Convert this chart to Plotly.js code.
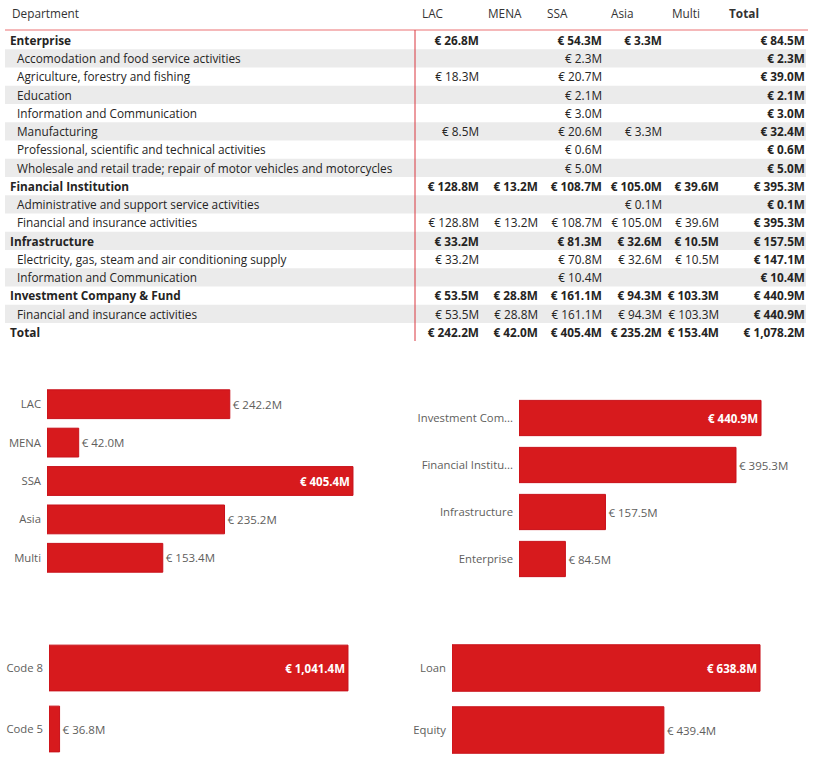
<!DOCTYPE html>
<html><head><meta charset="utf-8">
<script src="https://cdn.plot.ly/plotly-3.0.1.min.js"></script>
<style>html,body{margin:0;padding:0;background:#fff}</style>
</head><body><div id="chart" style="width:820px;height:764px"></div>
<script>
// ---------- data ----------
const regions = ['LAC','MENA','SSA','Asia','Multi'];
const rowLabels = ['Enterprise','Accomodation and food service activities','Agriculture, forestry and fishing','Education','Information and Communication','Manufacturing','Professional, scientific and technical activities','Wholesale and retail trade; repair of motor vehicles and motorcycles','Financial Institution','Administrative and support service activities','Financial and insurance activities','Infrastructure','Electricity, gas, steam and air conditioning supply','Information and Communication','Investment Company & Fund','Financial and insurance activities','Total'];
const rowIsGroup = [true,false,false,false,false,false,false,false,true,false,false,true,false,false,true,false,true];
const lacVals   = [26.8,null,18.3,null,null,8.5,null,null,128.8,null,128.8,33.2,33.2,null,53.5,53.5,242.2];
const menaVals  = [null,null,null,null,null,null,null,null,13.2,null,13.2,null,null,null,28.8,28.8,42.0];
const ssaVals   = [54.3,2.3,20.7,2.1,3.0,20.6,0.6,5.0,108.7,null,108.7,81.3,70.8,10.4,161.1,161.1,405.4];
const asiaVals  = [3.3,null,null,null,null,3.3,null,null,105.0,0.1,105.0,32.6,32.6,null,94.3,94.3,235.2];
const multiVals = [null,null,null,null,null,null,null,null,39.6,null,39.6,10.5,10.5,null,103.3,103.3,153.4];
const totalVals = [84.5,2.3,39.0,2.1,3.0,32.4,0.6,5.0,395.3,0.1,395.3,157.5,147.1,10.4,440.9,440.9,1078.2];
const headerLabels = ['Department','LAC','MENA','SSA','Asia','Multi','Total'];

const regionTotals = [242.2,42.0,405.4,235.2,153.4];
const deptLabels = ['Investment Com...','Financial Institu...','Infrastructure','Enterprise'];
const deptTotals = [440.9,395.3,157.5,84.5];
const codeLabels = ['Code 8','Code 5'];
const codeTotals = [1041.4,36.8];
const instrLabels = ['Loan','Equity'];
const instrTotals = [638.8,439.4];

// ---------- helpers / layout constants ----------
const W = 820, H = 764;
const px = v => v / W;
const py = v => 1 - v / H;
const fmt = v => v == null ? '' : '\u20AC ' + v.toLocaleString('en-US',{minimumFractionDigits:1,maximumFractionDigits:1}) + 'M';
const bold = s => '<b>' + s + '</b>';
const FONT = 'Segoe UI, Open Sans, sans-serif';
const TXT = '#252423';
const RED = '#d71a1d';
const TFS = 11.8; // table font size

// table column anchors (pixels on the hidden x5 axis, which maps 1:1 to pixels)
const LABEL_X_GROUP = 10, LABEL_X_SUB = 17;
const VALUE_RIGHT = [479, 538, 602, 662, 719, 805];
const HEADER_LEFT = [10, 420, 486, 545, 609, 670, 727];

// ---------- table (text traces on a hidden row/column axis) ----------
const rowIdx = rowLabels.map((_, i) => i);
const valueCols = [lacVals, menaVals, ssaVals, asiaVals, multiVals];

function textCol(xs, texts, pos) {
  return {
    type: 'scatter', mode: 'text', x: xs, y: rowIdx, text: texts, textposition: pos,
    xaxis: 'x5', yaxis: 'y6', cliponaxis: false, hoverinfo: 'skip',
    textfont: {family: FONT, size: TFS, color: TXT}
  };
}

const tableTraces = [];
tableTraces.push(textCol(
  rowIdx.map(i => rowIsGroup[i] ? LABEL_X_GROUP : LABEL_X_SUB),
  rowLabels.map((l, i) => rowIsGroup[i] ? bold(l) : l),
  'middle right'));
valueCols.forEach((col, c) => {
  tableTraces.push(textCol(
    rowIdx.map(() => VALUE_RIGHT[c]),
    col.map((v, i) => rowIsGroup[i] ? bold(fmt(v)) : fmt(v)),
    'middle left'));
});
tableTraces.push(textCol(
  rowIdx.map(() => VALUE_RIGHT[5]),
  totalVals.map(v => bold(fmt(v))),
  'middle left'));

// ---------- bars ----------
function barTrace(labels, vals, xa, ya) {
  const mx = Math.max.apply(null, vals);
  return {
    type: 'bar', orientation: 'h', y: labels, x: vals, xaxis: xa, yaxis: ya,
    text: vals.map(fmt),
    textposition: vals.map(v => v === mx ? 'inside' : 'outside'),
    insidetextanchor: 'end',
    insidetextfont: {family: FONT, color: '#ffffff', size: 11.5, weight: 'bold'},
    outsidetextfont: {family: FONT, color: '#605e5c', size: 11.5},
    constraintext: 'none', cliponaxis: false,
    marker: {color: RED, line: {color: '#c8101a', width: 1}},
    hoverinfo: 'skip'
  };
}

const data = [
  barTrace(regions, regionTotals, 'x', 'y'),
  barTrace(deptLabels, deptTotals, 'x2', 'y2'),
  barTrace(codeLabels, codeTotals, 'x3', 'y3'),
  barTrace(instrLabels, instrTotals, 'x4', 'y4')
].concat(tableTraces);

function xax(d, r, a) {
  return {domain: d, range: r, anchor: a, showgrid: false, zeroline: false, showline: false, showticklabels: false, fixedrange: true};
}
function yax(d, r, a) {
  return {domain: d, range: r, anchor: a, type: 'category', showgrid: false, zeroline: false, showline: false,
    ticks: '', ticklabelstandoff: 5, tickfont: {family: FONT, size: 11.3, color: '#605e5c'}, fixedrange: true};
}

// row bands and rules
const shapes = rowIdx.filter(i => i % 2 === 1).map(i => ({
  type: 'rect', xref: 'x5', yref: 'y5', x0: 5, x1: 806, y0: i - 0.5, y1: i + 0.5,
  fillcolor: '#ebebeb', line: {width: 0}, layer: 'below'
}));
shapes.push({type: 'line', xref: 'x5', yref: 'paper', x0: 5, x1: 808, y0: py(30), y1: py(30), line: {color: '#f2a0a2', width: 1.5}});
shapes.push({type: 'line', xref: 'x5', yref: 'paper', x0: 415, x1: 415, y0: py(30), y1: py(341), line: {color: '#d9363e', width: 1}});

const annotations = headerLabels.map((h, i) => ({
  text: i === headerLabels.length - 1 ? bold(h) : h,
  xref: 'x5', yref: 'paper', x: HEADER_LEFT[i], y: py(13), xanchor: 'left', yanchor: 'middle',
  showarrow: false, font: {family: FONT, size: TFS, color: '#333333'}
}));

const layout = {
  width: W, height: H,
  margin: {l: 0, r: 0, t: 0, b: 0},
  paper_bgcolor: '#ffffff', plot_bgcolor: 'rgba(0,0,0,0)',
  showlegend: false,
  bargap: 0.25,
  font: {family: FONT, size: 12, color: TXT},
  xaxis:  xax([px(47), px(400)], [0, 467.7], 'y'),
  yaxis:  yax([py(577), py(385)], [4.5, -0.5], 'x'),
  xaxis2: xax([px(519), px(800)], [0, 511.9], 'y2'),
  yaxis2: yax([py(582.5), py(394.5)], [3.5, -0.5], 'x2'),
  xaxis3: xax([px(49), px(400)], [0, 1222.6], 'y3'),
  yaxis3: yax([py(759.5), py(637.5)], [1.5, -0.5], 'x3'),
  xaxis4: xax([px(452), px(800)], [0, 721.7], 'y4'),
  yaxis4: yax([py(761), py(637)], [1.5, -0.5], 'x4'),
  xaxis5: {domain: [0, 1], range: [0, W], anchor: 'y5', visible: false, fixedrange: true},
  yaxis5: {domain: [py(341.25), py(31)], range: [rowLabels.length - 0.5, -0.5], anchor: 'x5', visible: false, fixedrange: true},
  yaxis6: {domain: [py(343), py(32.75)], range: [rowLabels.length - 0.5, -0.5], anchor: 'x5', visible: false, fixedrange: true},
  shapes: shapes,
  annotations: annotations
};

Plotly.newPlot('chart', data, layout, {displayModeBar: false, staticPlot: true});
</script>
</body></html>
